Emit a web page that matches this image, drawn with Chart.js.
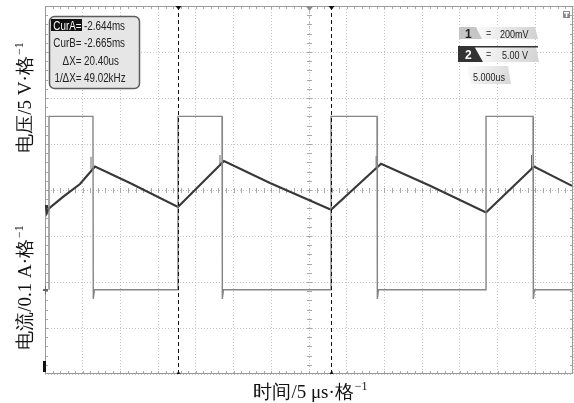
<!DOCTYPE html>
<html>
<head>
<meta charset="utf-8">
<script src="https://cdn.jsdelivr.net/npm/chart.js@4/dist/chart.umd.min.js"></script>
<style>
    body { margin: 0; background: #fff; }
    canvas { display: block; }
</style>
</head>
<body>
<canvas id="scope" width="574" height="403"></canvas>
<script>
// time in us (5 us per division, 14 divisions), level in divisions from screen centre
const gateTime  = [0.53, 0.53, 6.36, 6.40, 6.55, 17.63, 17.63, 23.47, 23.51, 23.66, 37.92, 37.92, 44.02, 44.06, 44.21, 58.47, 58.47, 64.70, 64.74, 64.89, 69.9];
const gateLevel = [-2.17, 1.60, 1.60, -2.37, -2.17, -2.17, 1.60, 1.60, -2.37, -2.17, -2.17, 1.60, 1.60, -2.37, -2.17, -2.17, 1.60, 1.60, -2.37, -2.17, -2.17];

const currTime  = [0.1, 0.25, 0.53, 2.39, 4.64, 6.63, 11.27, 17.63, 23.73, 29.83, 37.92, 44.55, 51.05, 58.47, 64.83, 69.87];
const currLevel = [-0.35, -0.5, -0.4, -0.15, 0.13, 0.51, 0.15, -0.37, 0.63, 0.15, -0.43, 0.57, 0.09, -0.49, 0.51, 0.09];

// switching spikes just before each turn-off edge
const spikeTime = [6.1, 23.2, 43.9, 64.5];
const spikeBase = [0.45, 0.56, 0.5, 0.46];
const spikeTop  = [0.72, 0.76, 0.74, 0.76];

const cursorA = 17.63;
const cursorB = 37.92;
const triggerTime = 35;

const cursorInfo = [
    ['CurA=', '-2.644ms'],
    ['CurB=', '-2.665ms'],
    ['\u0394X=', '20.40us'],
    ['1/\u0394X=', '49.02kHz']
];

function points(xs, ys) {
    return xs.map((x, i) => ({ x: x, y: ys[i] }));
}

function spikePoints() {
    let out = [];
    spikeTime.forEach((t, i) => {
        out.push({ x: t, y: spikeBase[i] }, { x: t, y: spikeTop[i] }, { x: t + 0.01, y: null });
    });
    return out;
}

function narrowText(ctx, text, x, y, align) {
    ctx.save();
    ctx.translate(x, y);
    ctx.scale(0.82, 1);
    ctx.textAlign = align || 'left';
    ctx.fillText(text, 0, 0);
    ctx.restore();
}

function axisLabel(ctx, main, sup, x, y, angle) {
    const mainFont = '19px "Liberation Serif", "Times New Roman", serif';
    const supFont = '12px "Liberation Serif", "Times New Roman", serif';
    ctx.save();
    ctx.translate(x, y);
    ctx.rotate(angle);
    ctx.font = mainFont;
    const w1 = ctx.measureText(main).width;
    ctx.font = supFont;
    const w2 = ctx.measureText(sup).width;
    const start = -(w1 + w2) / 2;
    ctx.fillStyle = '#111';
    ctx.textAlign = 'left';
    ctx.textBaseline = 'alphabetic';
    ctx.font = mainFont;
    ctx.fillText(main, start, 0);
    ctx.font = supFont;
    ctx.fillText(sup, start + w1 + 1, -8);
    ctx.restore();
}

const scopeFrame = {
    id: 'scopeFrame',
    beforeDatasetsDraw(chart) {
        const ctx = chart.ctx;
        const a = chart.chartArea;
        const xs = chart.scales.x;
        const ys = chart.scales.y;
        const y0 = ys.getPixelForValue(0);
        const xc = xs.getPixelForValue(triggerTime);

        ctx.save();
        ctx.strokeStyle = '#a8a8a8';
        ctx.lineWidth = 1;
        ctx.beginPath();
        for (let t = 1; t < 70; t++) {
            const px = Math.round(xs.getPixelForValue(t)) + 0.5;
            ctx.moveTo(px, a.top); ctx.lineTo(px, a.top + 3);
            ctx.moveTo(px, a.bottom); ctx.lineTo(px, a.bottom - 3);
            ctx.moveTo(px, y0 - 2); ctx.lineTo(px, y0 + 3);
        }
        for (let v = -3.8; v < 4; v += 0.2) {
            const py = Math.round(ys.getPixelForValue(v)) + 0.5;
            ctx.moveTo(a.left, py); ctx.lineTo(a.left + 3, py);
            ctx.moveTo(a.right, py); ctx.lineTo(a.right - 3, py);
            ctx.moveTo(xc - 2, py); ctx.lineTo(xc + 3, py);
        }
        ctx.stroke();
        ctx.strokeStyle = '#9a9a9a';
        ctx.strokeRect(a.left + 0.5, a.top + 0.5, a.right - a.left - 1, a.bottom - a.top - 1);
        ctx.restore();
    },
    afterDatasetsDraw(chart) {
        const ctx = chart.ctx;
        const a = chart.chartArea;
        const xs = chart.scales.x;

        ctx.save();
        // trigger position
        const xt = Math.round(xs.getPixelForValue(triggerTime)) + 0.5;
        ctx.strokeStyle = '#bbb';
        ctx.setLineDash([3, 2]);
        ctx.beginPath(); ctx.moveTo(xt, a.top + 5); ctx.lineTo(xt, a.top + 24); ctx.stroke();
        ctx.setLineDash([]);
        ctx.fillStyle = '#8c8c8c';
        ctx.beginPath(); ctx.moveTo(xt - 4, a.top); ctx.lineTo(xt + 4, a.top); ctx.lineTo(xt, a.top + 5); ctx.fill();

        // cursors
        [cursorA, cursorB].forEach(c => {
            const px = Math.round(xs.getPixelForValue(c)) + 0.5;
            ctx.strokeStyle = '#111';
            ctx.lineWidth = 1;
            ctx.setLineDash([4, 3]);
            ctx.beginPath(); ctx.moveTo(px, a.top); ctx.lineTo(px, a.bottom); ctx.stroke();
            ctx.setLineDash([]);
            ctx.fillStyle = '#111';
            ctx.beginPath(); ctx.moveTo(px - 3, a.top); ctx.lineTo(px + 3, a.top); ctx.lineTo(px, a.top + 4); ctx.fill();
            ctx.beginPath(); ctx.moveTo(px - 2, a.bottom); ctx.lineTo(px + 2, a.bottom); ctx.lineTo(px, a.bottom - 3); ctx.fill();
        });

        // channel markers on the left edge
        ctx.fillStyle = '#333';
        ctx.fillRect(a.left, 205, 3, 3);
        ctx.fillStyle = '#666';
        ctx.fillRect(a.left - 2, 289, 5, 2);
        ctx.fillRect(a.left, 286, 1, 8);
        ctx.fillStyle = '#111';
        ctx.fillRect(a.left - 2, 361, 3, 11);

        // cursor readout box
        ctx.beginPath();
        ctx.roundRect(49.5, 16.5, 90, 72, 5);
        ctx.fillStyle = '#e6e6e6';
        ctx.fill();
        ctx.lineWidth = 1.5;
        ctx.strokeStyle = '#5c5c5c';
        ctx.stroke();
        ctx.fillStyle = '#111';
        ctx.fillRect(51, 19, 31, 12);
        ctx.font = '12px "Liberation Sans", Arial, sans-serif';
        cursorInfo.forEach((row, i) => {
            const by = 29.5 + i * 17.5;
            ctx.fillStyle = i == 0 ? '#fff' : '#222';
            narrowText(ctx, row[0], 81.5, by, 'right');
            ctx.fillStyle = '#222';
            narrowText(ctx, row[1], 84, by, 'left');
        });

        // channel 1 tab
        let g = ctx.createLinearGradient(478, 27, 540, 39);
        g.addColorStop(0, '#fafafa');
        g.addColorStop(1, '#cfcfcf');
        ctx.fillStyle = g;
        ctx.beginPath(); ctx.moveTo(476, 27); ctx.lineTo(535, 27); ctx.lineTo(538, 39); ctx.lineTo(482, 39); ctx.fill();
        ctx.fillStyle = '#c6c6c6';
        ctx.beginPath(); ctx.moveTo(459, 27); ctx.lineTo(476, 27); ctx.lineTo(482, 39); ctx.lineTo(459, 39); ctx.fill();
        ctx.fillStyle = '#222';
        ctx.font = 'bold 12px "Liberation Sans", Arial, sans-serif';
        ctx.fillText('1', 465, 37.5);
        ctx.font = '11px "Liberation Sans", Arial, sans-serif';
        ctx.fillStyle = '#555';
        narrowText(ctx, '=', 486, 37);
        ctx.fillStyle = '#222';
        narrowText(ctx, '200mV', 500, 37.5);

        // channel 2 tab
        g = ctx.createLinearGradient(478, 47, 540, 62);
        g.addColorStop(0, '#fafafa');
        g.addColorStop(1, '#d2d2d2');
        ctx.fillStyle = g;
        ctx.beginPath(); ctx.moveTo(474, 47); ctx.lineTo(536, 47); ctx.lineTo(539, 62); ctx.lineTo(483, 62); ctx.fill();
        ctx.fillStyle = '#333';
        ctx.fillRect(474, 46, 64, 1.5);
        ctx.beginPath(); ctx.moveTo(458, 46); ctx.lineTo(474, 46); ctx.lineTo(483, 62); ctx.lineTo(458, 62); ctx.fill();
        ctx.fillStyle = '#fff';
        ctx.font = 'bold 12px "Liberation Sans", Arial, sans-serif';
        ctx.fillText('2', 465, 58.5);
        ctx.font = '11px "Liberation Sans", Arial, sans-serif';
        ctx.fillStyle = '#555';
        narrowText(ctx, '=', 486, 58);
        ctx.fillStyle = '#222';
        narrowText(ctx, '5.00 V', 502, 58.5);

        // timebase tab
        g = ctx.createLinearGradient(468, 66, 512, 84);
        g.addColorStop(0, '#fbfbfb');
        g.addColorStop(1, '#d6d6d6');
        ctx.fillStyle = g;
        ctx.beginPath(); ctx.moveTo(467, 66); ctx.lineTo(508, 66); ctx.lineTo(511, 84); ctx.lineTo(471, 84); ctx.fill();
        ctx.fillStyle = '#222';
        narrowText(ctx, '5.000us', 473, 80.5);

        // trigger icon top right
        ctx.fillStyle = '#8a8a8a';
        ctx.fillRect(563, 11, 7, 7);
        ctx.fillStyle = '#fff';
        ctx.fillRect(564, 12, 5, 1.5);
        ctx.fillRect(565.8, 12, 1.5, 5);
        ctx.restore();

        // axis titles
        axisLabel(ctx, '电压/5 V·格', '\u22121', 31, 98, -Math.PI / 2);
        axisLabel(ctx, '电流/0.1 A·格', '\u22121', 31, 288, -Math.PI / 2);
        axisLabel(ctx, '时间/5 μs·格', '\u22121', 310, 398, 0);
    }
};

new Chart(document.querySelector('#scope'), {
    type: 'line',
    data: {
        datasets: [
            {
                label: 'CH2',
                data: points(gateTime, gateLevel),
                borderColor: '#858585',
                borderWidth: 1.4,
                pointRadius: 0,
                tension: 0
            },
            {
                label: 'CH1',
                data: points(currTime, currLevel),
                borderColor: '#383838',
                borderWidth: 2.2,
                pointRadius: 0,
                tension: 0
            },
            {
                label: 'CH1 spikes',
                data: spikePoints(),
                borderColor: '#666',
                borderWidth: 1,
                pointRadius: 0,
                spanGaps: false
            }
        ]
    },
    options: {
        responsive: false,
        animation: false,
        events: [],
        layout: {
            padding: { left: 45, top: 6, right: 1, bottom: 29 }
        },
        plugins: {
            legend: { display: false },
            tooltip: { enabled: false }
        },
        scales: {
            x: {
                type: 'linear',
                min: 0,
                max: 70,
                ticks: { display: false, stepSize: 5 },
                grid: { color: '#c2c2c2', drawTicks: false },
                border: { display: false, dash: [1, 2] },
                afterFit: scale => { scale.height = 0; }
            },
            y: {
                type: 'linear',
                min: -4,
                max: 4,
                ticks: { display: false, stepSize: 1 },
                grid: { color: '#c2c2c2', drawTicks: false },
                border: { display: false, dash: [1, 2] },
                afterFit: scale => { scale.width = 0; }
            }
        }
    },
    plugins: [scopeFrame]
});
</script>
</body>
</html>
